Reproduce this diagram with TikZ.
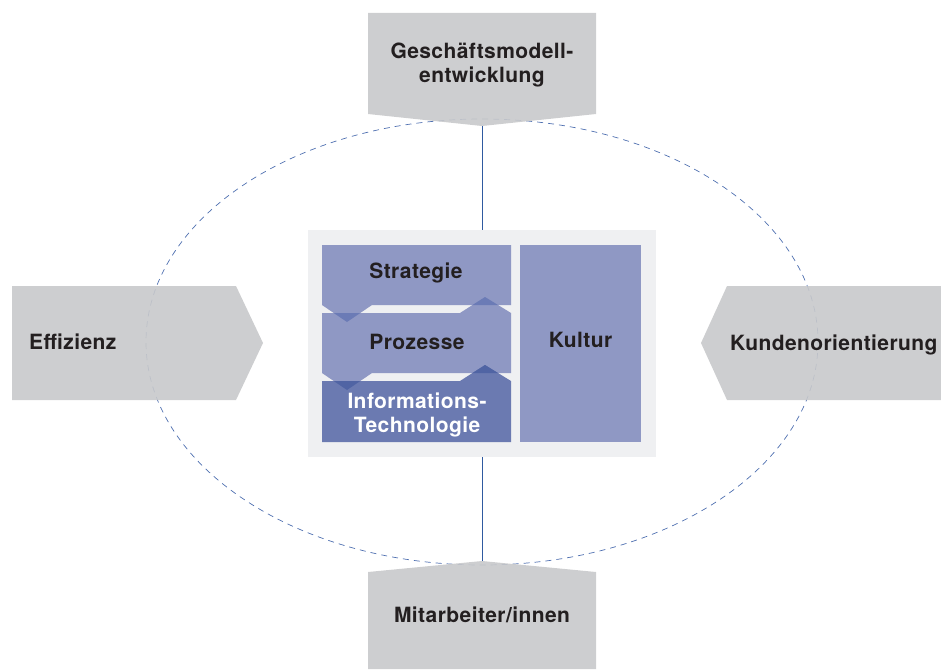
\documentclass[tikz,border=0pt]{standalone}
\usepackage{fontspec}
\setmainfont{TeX Gyre Heros}[LetterSpace=2]
\definecolor{boxgray}{HTML}{C8C9CB}
\definecolor{panelgray}{HTML}{EFF0F2}
\definecolor{lav}{HTML}{8F98C4}
\definecolor{itblue}{HTML}{6B7AB1}
\definecolor{ovlA}{HTML}{6B7BB6}
\definecolor{ovlB}{HTML}{5064A4}
\definecolor{lineblue}{HTML}{2F5AA0}
\definecolor{dashblue}{HTML}{4E6FB0}
\definecolor{txt}{HTML}{231F20}
\def\pathStrat{(322,245) -- (511,245) -- (511,305) -- (372,305) -- (347,322) -- (322,305) -- cycle}
\def\pathProz{(322,313) -- (460,313) -- (485,297) -- (511,313) -- (511,373) -- (372,373) -- (347,390) -- (322,373) -- cycle}
\def\pathInfo{(322,381) -- (460,381) -- (485,365) -- (511,381) -- (511,442) -- (322,442) -- cycle}
\begin{document}
\begin{tikzpicture}[x=1pt,y=-1pt,
  lbl/.style={font=\bfseries\fontsize{21}{23.5}\selectfont, text=txt, align=center, inner sep=0pt},
  outerbox/.style={fill=boxgray, fill opacity=0.9},
  conn/.style={draw=lineblue, line width=1pt}]
\useasboundingbox (0,0) rectangle (941,669);
% dashed ellipse
\draw[dashblue, dash pattern=on 6pt off 5pt, line width=0.7pt] (482,342) ellipse [x radius=336, y radius=223];
% outer boxes
\fill[outerbox] (368,13) -- (596,13) -- (596,114) -- (482,126) -- (368,114) -- cycle;
\fill[outerbox] (12,286) -- (236,286) -- (263,343) -- (236,400) -- (12,400) -- cycle;
\fill[outerbox] (941,286) -- (727,286) -- (701,343) -- (727,400) -- (941,400) -- cycle;
\fill[outerbox] (368,669) -- (368,572) -- (482,561) -- (596,572) -- (596,669) -- cycle;
\coordinate (gmtip) at (482,126);
\coordinate (mittip) at (482,561);
\node[lbl] (gm) at (482,65) {Geschäftsmodell-\\entwicklung};
\node[lbl, anchor=base west] (eff) at (29,349.5) {Effizienz};
\node[lbl, anchor=base west] (kund) at (730,350) {Kundenorientierung};
\node[lbl, anchor=base] (mit) at (482,622.5) {Mitarbeiter/innen};
% central panel
\node[fill=panelgray, minimum width=348pt, minimum height=227pt, inner sep=0pt] (panel) at (482,343.5) {};
\node[fill=lav, minimum width=121pt, minimum height=197pt, inner sep=0pt] (kultur) at (580.5,343.5) {};
\node[lbl] (kulturtext) at (580.5,340) {Kultur};
\fill[lav] \pathStrat;
\fill[lav] \pathProz;
\fill[itblue] \pathInfo;
\begin{scope}
  \clip \pathProz;
  \fill[ovlA] \pathStrat;
\end{scope}
\begin{scope}
  \clip \pathInfo;
  \fill[ovlB] \pathProz;
\end{scope}
\node[lbl] (strat) at (416,273) {Strategie};
\node[lbl] (proz) at (417,342) {Prozesse};
\node[lbl, text=white] (it) at (417,415) {Informations-\\Technologie};
% connectors
\draw[conn] (gmtip) -- (panel.north);
\draw[conn] (panel.south) -- (mittip);
\end{tikzpicture}
\end{document}
